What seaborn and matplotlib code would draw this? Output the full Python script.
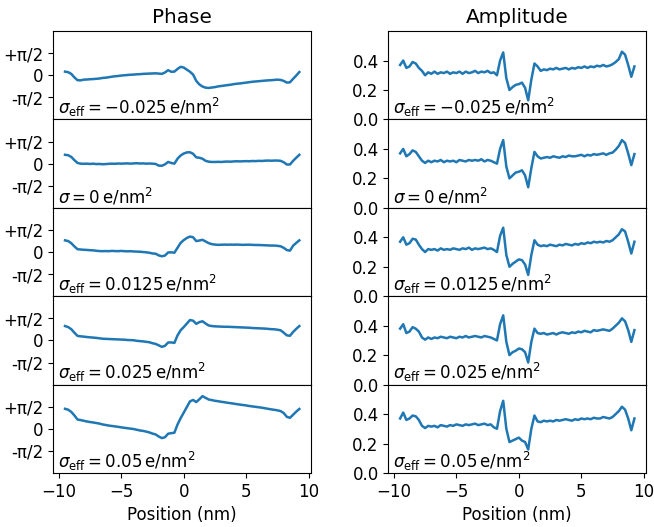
import numpy as np
import pandas as pd
import matplotlib
matplotlib.use("Agg")
import matplotlib.pyplot as plt
import seaborn as sns

plt.rcParams["font.size"] = 12

# sample positions (nm)
position = np.round(np.arange(-9.5, 9.26, 0.25), 2)

labels = [
    r"$\sigma_{\rm eff} = -0.025\,{\rm e/nm^2}$",
    r"$\sigma = 0\,{\rm e/nm^2}$",
    r"$\sigma_{\rm eff} = 0.0125\,{\rm e/nm^2}$",
    r"$\sigma_{\rm eff} = 0.025\,{\rm e/nm^2}$",
    r"$\sigma_{\rm eff} = 0.05\,{\rm e/nm^2}$",
]

phase_m0025 = [
    0.26, 0.22, 0.10, -0.15, -0.35, -0.36, -0.31, -0.30,
    -0.28, -0.27, -0.25, -0.23, -0.19, -0.17, -0.14, -0.10,
    -0.07, -0.05, -0.02, 0.00, 0.02, 0.04, 0.05, 0.07,
    0.08, 0.10, 0.11, 0.12, 0.13, 0.14, 0.12, 0.10,
    0.20, 0.36, 0.25, 0.26, 0.45, 0.60, 0.55, 0.40,
    0.25, 0.05, -0.40, -0.65, -0.80, -0.88, -0.90, -0.87,
    -0.84, -0.79, -0.76, -0.73, -0.70, -0.67, -0.63, -0.60,
    -0.58, -0.55, -0.52, -0.49, -0.46, -0.44, -0.42, -0.40,
    -0.38, -0.36, -0.35, -0.33, -0.31, -0.33, -0.40, -0.52,
    -0.50, -0.25, -0.02, 0.23,
]
phase_0 = [
    0.63, 0.60, 0.48, 0.25, 0.05, 0.00, -0.01, 0.00,
    -0.02, 0.00, -0.03, -0.02, -0.04, -0.03, -0.01, 0.00,
    -0.01, 0.01, 0.00, 0.01, 0.02, 0.00, 0.02, 0.03,
    0.01, 0.02, 0.00, 0.01, 0.00, -0.02, -0.14, -0.15,
    -0.05, 0.12, 0.05, 0.00, 0.35, 0.58, 0.72, 0.80,
    0.81, 0.70, 0.45, 0.42, 0.35, 0.20, 0.14, 0.12,
    0.12, 0.13, 0.12, 0.14, 0.15, 0.14, 0.16, 0.17,
    0.16, 0.17, 0.18, 0.17, 0.19, 0.18, 0.20, 0.19,
    0.21, 0.22, 0.21, 0.22, 0.22, 0.20, 0.10, -0.06,
    -0.06, 0.20, 0.42, 0.63,
]
phase_00125 = [
    0.83, 0.78, 0.63, 0.40, 0.20, 0.18, 0.16, 0.15,
    0.13, 0.12, 0.09, 0.07, 0.06, 0.07, 0.06, 0.08,
    0.07, 0.06, 0.08, 0.06, 0.05, 0.06, 0.04, 0.03,
    0.02, 0.00, -0.02, -0.05, -0.10, -0.12, -0.24, -0.30,
    -0.25, -0.03, -0.02, -0.05, 0.30, 0.65, 0.85, 1.00,
    1.10, 1.05, 0.78, 0.82, 0.87, 0.75, 0.63, 0.56,
    0.53, 0.51, 0.52, 0.53, 0.52, 0.53, 0.52, 0.53,
    0.52, 0.51, 0.52, 0.52, 0.51, 0.50, 0.50, 0.49,
    0.48, 0.47, 0.46, 0.46, 0.44, 0.41, 0.30, 0.14,
    0.10, 0.45, 0.65, 0.83,
]
phase_0025 = [
    1.02, 0.95, 0.80, 0.55, 0.32, 0.29, 0.27, 0.24,
    0.22, 0.20, 0.18, 0.15, 0.12, 0.11, 0.10, 0.09,
    0.08, 0.07, 0.06, 0.05, 0.03, 0.02, 0.01, -0.03,
    -0.05, -0.07, -0.10, -0.13, -0.20, -0.25, -0.35, -0.46,
    -0.38, -0.15, -0.14, -0.18, 0.35, 0.72, 0.95, 1.20,
    1.45, 1.40, 1.18, 1.30, 1.36, 1.20, 1.06, 1.02,
    1.00, 0.99, 0.98, 0.97, 0.97, 0.96, 0.95, 0.94,
    0.93, 0.92, 0.91, 0.90, 0.88, 0.87, 0.86, 0.85,
    0.84, 0.82, 0.80, 0.79, 0.76, 0.72, 0.55, 0.36,
    0.33, 0.60, 0.82, 1.02,
]
phase_005 = [
    1.42, 1.36, 1.20, 0.95, 0.66, 0.62, 0.57, 0.52,
    0.48, 0.45, 0.41, 0.37, 0.31, 0.27, 0.23, 0.20,
    0.17, 0.14, 0.10, 0.07, 0.04, 0.01, -0.02, -0.07,
    -0.12, -0.15, -0.20, -0.26, -0.34, -0.40, -0.55, -0.66,
    -0.60, -0.35, -0.31, -0.28, 0.30, 0.75, 1.15, 1.55,
    1.95, 2.05, 1.90, 2.10, 2.32, 2.20, 2.08, 2.04,
    1.99, 1.96, 1.92, 1.89, 1.85, 1.82, 1.79, 1.75,
    1.72, 1.69, 1.66, 1.62, 1.59, 1.56, 1.53, 1.50,
    1.46, 1.42, 1.38, 1.35, 1.31, 1.26, 1.12, 0.85,
    0.78, 1.00, 1.22, 1.41,
]

amp_m0025 = [
    0.37, 0.40, 0.35, 0.36, 0.39, 0.38, 0.35, 0.33,
    0.30, 0.32, 0.31, 0.325, 0.31, 0.32, 0.315, 0.325,
    0.31, 0.32, 0.315, 0.325, 0.31, 0.325, 0.315, 0.32,
    0.33, 0.315, 0.325, 0.32, 0.33, 0.315, 0.32, 0.30,
    0.40, 0.455, 0.28, 0.20, 0.22, 0.235, 0.24, 0.25,
    0.215, 0.13, 0.27, 0.38, 0.36, 0.33, 0.34, 0.335,
    0.345, 0.34, 0.35, 0.34, 0.345, 0.35, 0.34, 0.35,
    0.345, 0.355, 0.35, 0.36, 0.35, 0.36, 0.355, 0.365,
    0.36, 0.37, 0.36, 0.365, 0.375, 0.39, 0.41, 0.46,
    0.44, 0.37, 0.29, 0.36,
]
amp_0 = [
    0.37, 0.40, 0.35, 0.365, 0.39, 0.38, 0.35, 0.32,
    0.305, 0.32, 0.31, 0.32, 0.315, 0.325, 0.31, 0.32,
    0.315, 0.32, 0.31, 0.325, 0.32, 0.315, 0.325, 0.32,
    0.325, 0.32, 0.33, 0.315, 0.325, 0.32, 0.31, 0.30,
    0.40, 0.46, 0.28, 0.20, 0.22, 0.24, 0.245, 0.255,
    0.22, 0.14, 0.27, 0.38, 0.35, 0.335, 0.34, 0.345,
    0.34, 0.35, 0.345, 0.34, 0.35, 0.345, 0.355, 0.35,
    0.35, 0.355, 0.36, 0.35, 0.36, 0.355, 0.365, 0.36,
    0.365, 0.37, 0.36, 0.37, 0.375, 0.395, 0.42, 0.46,
    0.44, 0.37, 0.29, 0.365,
]
amp_00125 = [
    0.37, 0.40, 0.35, 0.36, 0.39, 0.385, 0.35, 0.32,
    0.30, 0.32, 0.315, 0.32, 0.31, 0.325, 0.315, 0.32,
    0.315, 0.325, 0.32, 0.315, 0.325, 0.32, 0.33, 0.315,
    0.325, 0.32, 0.325, 0.33, 0.32, 0.325, 0.315, 0.30,
    0.41, 0.465, 0.28, 0.20, 0.22, 0.235, 0.25, 0.245,
    0.215, 0.145, 0.28, 0.38, 0.35, 0.34, 0.345, 0.34,
    0.35, 0.345, 0.34, 0.35, 0.345, 0.355, 0.35, 0.345,
    0.355, 0.35, 0.36, 0.355, 0.365, 0.36, 0.37, 0.365,
    0.37, 0.365, 0.375, 0.37, 0.38, 0.40, 0.42, 0.455,
    0.44, 0.37, 0.29, 0.37,
]
amp_0025 = [
    0.38, 0.41, 0.35, 0.36, 0.39, 0.38, 0.36, 0.32,
    0.305, 0.32, 0.31, 0.32, 0.315, 0.325, 0.32, 0.315,
    0.325, 0.32, 0.315, 0.325, 0.32, 0.33, 0.32, 0.325,
    0.33, 0.325, 0.32, 0.33, 0.325, 0.32, 0.31, 0.30,
    0.41, 0.47, 0.29, 0.20, 0.22, 0.23, 0.245, 0.24,
    0.22, 0.15, 0.29, 0.38, 0.35, 0.345, 0.35, 0.34,
    0.345, 0.35, 0.34, 0.35, 0.355, 0.35, 0.345, 0.355,
    0.35, 0.36, 0.355, 0.365, 0.36, 0.355, 0.37, 0.365,
    0.37, 0.375, 0.37, 0.365, 0.38, 0.40, 0.42, 0.45,
    0.43, 0.37, 0.29, 0.37,
]
amp_005 = [
    0.37, 0.41, 0.36, 0.37, 0.39, 0.385, 0.36, 0.32,
    0.305, 0.32, 0.315, 0.32, 0.31, 0.325, 0.32, 0.315,
    0.325, 0.32, 0.33, 0.325, 0.32, 0.33, 0.325, 0.33,
    0.335, 0.325, 0.33, 0.335, 0.325, 0.33, 0.31, 0.30,
    0.42, 0.49, 0.30, 0.21, 0.22, 0.23, 0.24, 0.22,
    0.21, 0.16, 0.30, 0.39, 0.35, 0.345, 0.355, 0.35,
    0.355, 0.35, 0.36, 0.355, 0.36, 0.365, 0.36, 0.355,
    0.365, 0.36, 0.37, 0.365, 0.37, 0.365, 0.375, 0.37,
    0.37, 0.38, 0.375, 0.37, 0.38, 0.40, 0.42, 0.45,
    0.43, 0.37, 0.29, 0.37,
]

phase_sets = [phase_m0025, phase_0, phase_00125, phase_0025, phase_005]
amp_sets = [amp_m0025, amp_0, amp_00125, amp_0025, amp_005]

phase_ticks = [np.pi / 2, 0, -np.pi / 2]
phase_ticklabels = ["+π/2", "0", "-π/2"]
amp_ticks = [0.0, 0.2, 0.4]

color = "#1f77b4"

fig, axes = plt.subplots(5, 2, figsize=(6.54, 5.27), dpi=100, sharex=True)
fig.subplots_adjust(left=0.0815, right=0.988, top=0.941, bottom=0.1025,
                    wspace=0.30, hspace=0.0)

for i in range(5):
    df = pd.DataFrame({"position": position,
                       "phase": phase_sets[i],
                       "amplitude": amp_sets[i]})
    axp = axes[i, 0]
    axa = axes[i, 1]
    sns.lineplot(data=df, x="position", y="phase", ax=axp, color=color, lw=1.8)
    sns.lineplot(data=df, x="position", y="amplitude", ax=axa, color=color, lw=1.8)
    axp.set_ylim(-np.pi, np.pi)
    axp.set_yticks(phase_ticks)
    axp.set_yticklabels(phase_ticklabels)
    axa.set_ylim(0, 0.6)
    axa.set_yticks(amp_ticks)
    for ax in (axp, axa):
        ax.set_ylabel("")
        ax.set_xlabel("")
        ax.text(0.018, 0.005, labels[i], transform=ax.transAxes,
                ha="left", va="bottom", fontsize=12)

axes[0, 0].set_title("Phase")
axes[0, 1].set_title("Amplitude")
axes[4, 0].set_xlabel("Position (nm)")
axes[4, 1].set_xlabel("Position (nm)")
axes[4, 0].set_xticks([-10, -5, 0, 5, 10])

fig.savefig("out.png", dpi=100)
